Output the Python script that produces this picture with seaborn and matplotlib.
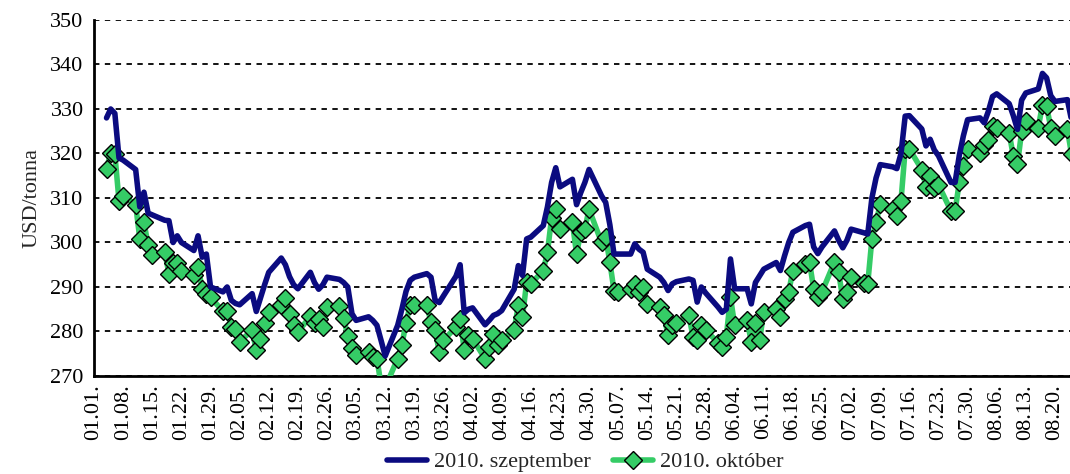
import numpy as np
import pandas as pd
import matplotlib
matplotlib.use("Agg")
import matplotlib.pyplot as plt
import seaborn as sns

sns.set_style("white")
plt.rcParams['font.family'] = ['Liberation Serif', 'DejaVu Serif']

# business days shown on the chart
dates = pd.bdate_range("2010-01-04", "2010-08-24")

# 2010. szeptember (USD/tonna)
szeptember = [
    328, 330, 329, 319, 318.5,
    316.4, 308, 311.3, 306.6, 306.2,
    305, 304.9, 300, 301.5, 300,
    298.2, 301.5, 296.7, 297.4, 290,
    288.9, 290, 287, 286.3, 286,
    288.5, 284.5, 287.5, 290.5, 293.3,
    296.5, 295, 292.3, 290.5, 289.6,
    293.3, 291, 289.5, 290.5, 292.2,
    291.7, 291, 290, 284, 282.5,
    283.3, 282.5, 281.4, 278, 274.5,
    281.4, 285, 289, 291.5, 292.2,
    293, 292.2, 287, 286.5, 288,
    292.4, 295, 284.2, 285, 285.3,
    281.5, 282.5, 283.6, 284, 284.7,
    289.5, 294.8, 292.6, 300.8, 301.2,
    303.8, 308, 313.5, 316.8, 312.5,
    314.2, 308.5, 311.2, 313.5, 316.4,
    310.5, 309, 304, 297.4, 297.4,
    297.4, 299.7, 298.5, 297.8, 294,
    292.2, 291, 289.2, 290.7, 291.2,
    291.8, 291.5, 286.6, 290, 288.7,
    285.5, 284.3, 285, 296.3, 289.6,
    289.6, 286.2, 291, 292.5, 294,
    295.5, 293.7, 297, 300, 302.3,
    303.8, 304.1, 299, 297.5, 299,
    302.6, 300.5, 298.8, 300.5, 303,
    302.2, 301.9, 310, 314.5, 317.5,
    317, 316.6, 320, 328.4, 328.5,
    325.5, 321.7, 323.2, 320.8, 319.5,
    313.5, 313.5, 319.5, 324, 327.6,
    328, 326.9, 329.5, 332.8, 333.4,
    331.2, 328.5, 325.4, 332, 333.6,
    334.5, 338, 337, 333, 331.7,
    332.1, 327.5,
]

# 2010. október (USD/tonna)
oktober = [
    316.5, 320.2, 319.8, 309.4, 310.5,
    308.5, 300.8, 304.5, 299.4, 297.3,
    297.8, 293, 295.4, 295.5, 293.5,
    292.6, 294.5, 289.6, 288.5, 287.7,
    284.5, 284.7, 281, 280.6, 277.7,
    280.3, 275.8, 278.4, 281.8, 284.4,
    286, 287.5, 284, 281.4, 279.9,
    283.4, 281.8, 282.8, 281, 285.5,
    285.7, 283, 279, 276.2, 274.7,
    275.5, 274.3, 273.9, 268, 267.5,
    273.9, 276.9, 282, 285.9, 286,
    285.9, 282.1, 280.3, 275.4, 278,
    281, 282.9, 275.8, 279.1, 278.4,
    273.9, 276.6, 279.5, 276.9, 278,
    280.3, 285.9, 283.3, 291.1, 290.7,
    293.7, 297.8, 305.6, 307.5, 303,
    304.5, 297.4, 302.3, 303, 307.5,
    300, 301.2, 295.6, 289.2, 288.9,
    289.6, 290.7, 288.9, 290, 286.2,
    285.5, 283.6, 279.1, 281.4, 281.8,
    283.6, 278.8, 278, 281.4, 280.3,
    277.5, 276.6, 278.8, 287.7, 281.4,
    282.5, 277.7, 281.8, 278, 284.4,
    285, 283.3, 287.4, 288.9, 293.7,
    295.2, 295.6, 289.6, 287.7, 288.9,
    295.6, 293.3, 287.4, 288.9, 292.2,
    291, 290.7, 300.8, 304.5, 308.6,
    307.5, 306, 309.4, 320.9, 321,
    316.4, 312.5, 315, 312.3, 313,
    307.1, 307.1, 313.5, 317.2, 320.9,
    320.2, 322, 323, 326.1, 325.8,
    324.6, 319.4, 317.6, 325, 327.3,
    325.8, 331, 330.6, 325.8, 323.9,
    325.4, 319.8,
]

# weekly tick positions
ticks = pd.date_range("2010-01-01", "2010-08-20", freq="7D")

df = pd.DataFrame({"date": dates, "szep": szeptember, "okt": oktober})

navy = "#0b0b80"
green = "#35cc66"

fig = plt.figure(figsize=(10.7, 4.74), dpi=100)
ax = fig.add_axes([0.0879, 0.2068, 0.9121, 0.751])

sns.lineplot(data=df, x="date", y="okt", ax=ax, color=green, linewidth=4,
             marker="D", markersize=9, markerfacecolor=green,
             markeredgecolor="black", markeredgewidth=1.0,
             label="2010. október", zorder=3)
sns.lineplot(data=df, x="date", y="szep", ax=ax, color=navy, linewidth=4,
             label="2010. szeptember", zorder=4)

ax.set_ylim(270, 350)
ax.set_yticks(np.arange(270, 351, 10))
ax.set_xlim(pd.Timestamp("2010-01-01"), pd.Timestamp("2010-08-23 15:00"))
ax.set_xticks(ticks)
ax.set_xticklabels([t.strftime("%m.%d.") for t in ticks], rotation=90)

ax.grid(axis="y", color="black", linestyle=(0, (3, 3)), linewidth=1.3)
ax.grid(axis="x", visible=False)
for side in ["top", "right"]:
    ax.spines[side].set_visible(False)
for side in ["left", "bottom"]:
    ax.spines[side].set_color("black")
    ax.spines[side].set_linewidth(2)
ax.tick_params(axis="both", direction="inout", length=8, width=1.5,
               colors="black", labelsize=16)
ax.tick_params(axis="x", pad=2)
ax.set_xlabel("")
ax.set_ylabel("USD/tonna", fontsize=16, labelpad=6)

handles, labels = ax.get_legend_handles_labels()
ax.get_legend().remove()
fig.legend(handles[::-1], labels[::-1], loc="center",
           bbox_to_anchor=(0.547, 0.025), ncol=2, frameon=False,
           fontsize=16, handlelength=1.8, handletextpad=0.3, columnspacing=1.0)

fig.savefig("out.png", dpi=100)
